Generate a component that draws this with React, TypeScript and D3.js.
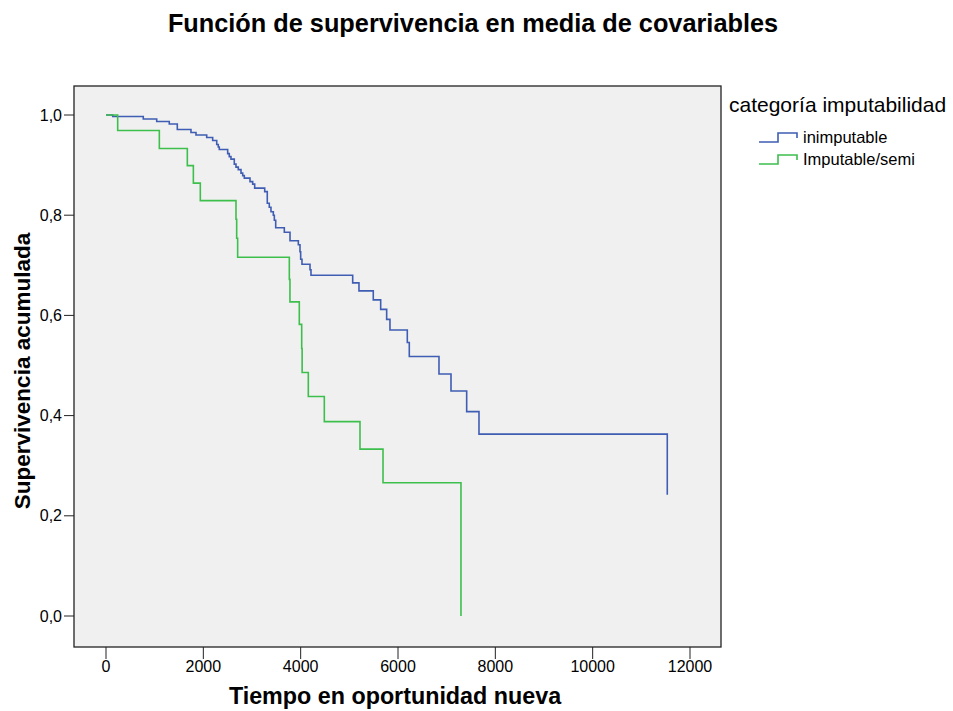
import React from "react";
import * as d3 from "d3";

// Kaplan-Meier step points (time, cumulative survival)
const inimputableTimes = [0, 138, 766, 1042, 1300, 1465, 1746, 1849, 2069, 2192, 2275, 2307, 2328, 2500, 2533, 2568, 2636, 2671, 2718, 2774, 2809, 2842, 2959, 3014, 3055, 3261, 3314, 3355, 3390, 3438, 3459, 3487, 3664, 3781, 3952, 3986, 4000, 4027, 4192, 4212, 5069, 5198, 5492, 5644, 5767, 5835, 6191, 6232, 6842, 7089, 7411, 7664, 11533];
const inimputableSurv = [1.0, 0.997, 0.992, 0.987, 0.982, 0.971, 0.965, 0.96, 0.955, 0.949, 0.941, 0.936, 0.931, 0.923, 0.917, 0.912, 0.902, 0.896, 0.891, 0.884, 0.879, 0.874, 0.867, 0.862, 0.854, 0.847, 0.824, 0.816, 0.807, 0.8, 0.79, 0.775, 0.766, 0.749, 0.741, 0.727, 0.712, 0.702, 0.691, 0.68, 0.665, 0.649, 0.631, 0.612, 0.592, 0.571, 0.546, 0.518, 0.483, 0.449, 0.408, 0.363, 0.242];

const imputableTimes = [0, 240, 1096, 1671, 1795, 1938, 2671, 2685, 2705, 3767, 3780, 3972, 4021, 4030, 4157, 4486, 5219, 5692, 7294];
const imputableSurv = [1.0, 0.969, 0.933, 0.899, 0.864, 0.829, 0.792, 0.754, 0.716, 0.672, 0.627, 0.582, 0.534, 0.486, 0.438, 0.388, 0.333, 0.266, 0.0];

const seriesNames = ["inimputable", "Imputable/semi"];
const seriesColors = ["#3f5db3", "#3dbf4c"];
const xTicks = [0, 2000, 4000, 6000, 8000, 10000, 12000];
const yTicks = [0, 0.2, 0.4, 0.6, 0.8, 1.0];

const W = 953;
const H = 711;
const frame = { left: 74, right: 721, top: 86, bottom: 647 };
const font = "'Liberation Sans', Arial, sans-serif";

export default function App() {
  const x = d3.scaleLinear().domain([0, 12000]).range([106, 690]);
  const y = d3.scaleLinear().domain([0, 1]).range([616, 115]);

  const line = d3
    .line<[number, number]>()
    .x((d) => x(d[0]))
    .y((d) => y(d[1]))
    .curve(d3.curveStepAfter);

  const series = [
    d3.zip(inimputableTimes, inimputableSurv) as [number, number][],
    d3.zip(imputableTimes, imputableSurv) as [number, number][],
  ];

  const fmt = (v: number) => d3.format(".1f")(v).replace(".", ",");

  return (
    <svg
      width={W}
      height={H}
      style={{ position: "absolute", left: 0, top: 0, background: "#fff" }}
      fontFamily={font}
    >
      <text x={473} y={32} textAnchor="middle" fontSize={25.3} fontWeight="bold">
        Función de supervivencia en media de covariables
      </text>

      <rect
        x={frame.left}
        y={frame.top}
        width={frame.right - frame.left}
        height={frame.bottom - frame.top}
        fill="#f0f0f0"
        stroke="#222"
        strokeWidth={1.3}
      />

      {series.map((pts, i) => (
        <path
          key={seriesNames[i]}
          d={line(pts) ?? ""}
          fill="none"
          stroke={seriesColors[i]}
          strokeWidth={1.6}
        />
      ))}

      {/* y axis */}
      {yTicks.map((t) => (
        <g key={t}>
          <line x1={frame.left - 10} x2={frame.left} y1={y(t)} y2={y(t)} stroke="#222" />
          <text x={frame.left - 12} y={y(t)} dy="0.35em" textAnchor="end" fontSize={16}>
            {fmt(t)}
          </text>
        </g>
      ))}
      <text
        transform={`translate(30,371) rotate(-90)`}
        textAnchor="middle"
        fontSize={22.5}
        fontWeight="bold"
      >
        Supervivencia acumulada
      </text>

      {/* x axis */}
      {xTicks.map((t) => (
        <g key={t}>
          <line x1={x(t)} x2={x(t)} y1={frame.bottom} y2={frame.bottom + 12} stroke="#222" />
          <text x={x(t)} y={672} textAnchor="middle" fontSize={16}>
            {t}
          </text>
        </g>
      ))}
      <text x={395} y={704} textAnchor="middle" fontSize={23.3} fontWeight="bold">
        Tiempo en oportunidad nueva
      </text>

      {/* legend */}
      <text x={729} y={112} fontSize={21}>
        categoría imputabilidad
      </text>
      {seriesNames.map((name, i) => {
        const base = 142 + i * 22;
        return (
          <g key={name}>
            <path
              d={`M759,${base}H778V${base - 9}H797V${base - 4}`}
              fill="none"
              stroke={seriesColors[i]}
              strokeWidth={1.6}
            />
            <text x={803} y={base + 1} fontSize={16.5}>
              {name}
            </text>
          </g>
        );
      })}
    </svg>
  );
}
